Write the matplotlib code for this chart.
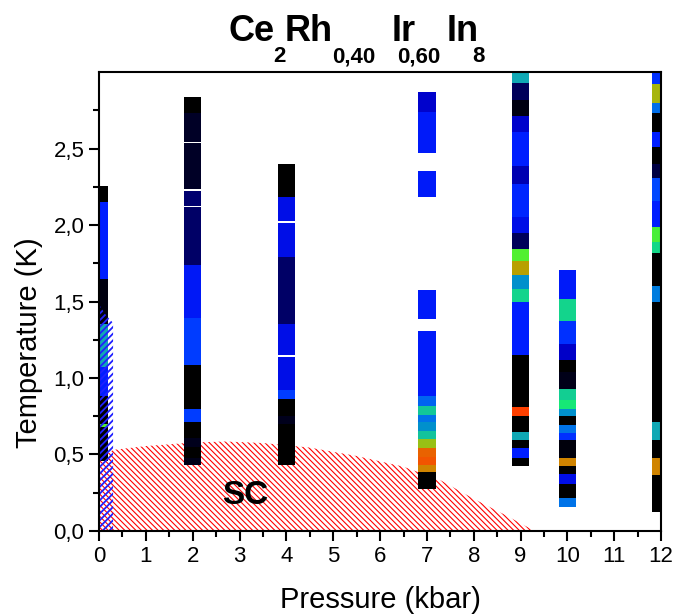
import matplotlib
matplotlib.use("Agg")
import matplotlib.pyplot as plt
from matplotlib.colors import LinearSegmentedColormap
from matplotlib.ticker import FuncFormatter, MultipleLocator, FixedLocator

plt.rcParams['font.family'] = ['Liberation Sans', 'DejaVu Sans']
plt.rcParams['hatch.linewidth'] = 0.8

# ---- data: each column = boundaries (top -> bottom) and colour value per segment (None = gap)
pressures = [0, 2, 4, 7, 9, 10, 12]
b0 = [2.255, 2.15, 1.65, 1.35, 1.07, 0.88, 0.70, 0.68, 0.46]
v0 = [0.0, 0.33, 0.03, 0.60, 0.33, 0.0, 0.78, 0.0]
b2 = [2.84, 2.73, 2.545, 2.535, 2.235, 2.225, 2.125, 2.115, 1.74, 1.39, 1.085, 0.80, 0.71, 0.61, 0.55, 0.48, 0.43]
v2 = [0.0, 0.06, None, 0.06, None, 0.14, None, 0.13, 0.31, 0.38, 0.0, 0.38, 0.0, 0.05, 0.0, 0.04]
b4 = [2.40, 2.18, 2.025, 2.01, 1.79, 1.35, 1.15, 1.14, 0.92, 0.86, 0.75, 0.70, 0.43]
v4 = [0.0, 0.28, None, 0.28, 0.13, 0.28, None, 0.28, 0.38, 0.0, 0.05, 0.0]
b7 = [2.87, 2.74, 2.47, 2.35, 2.18, 1.575, 1.385, 1.31, 0.88, 0.82, 0.76, 0.71, 0.655, 0.60, 0.54, 0.485, 0.43, 0.385, 0.275]
v7 = [0.23, 0.32, None, 0.32, None, 0.32, None, 0.32, 0.45, 0.66, 0.48, 0.55, 0.65, 0.83, 0.95, 0.97, 0.91, 0.0]
b9 = [3.0, 2.93, 2.82, 2.71, 2.61, 2.385, 2.27, 2.05, 1.95, 1.84, 1.765, 1.67, 1.58, 1.50, 1.15, 0.81, 0.75, 0.65, 0.595, 0.54, 0.475, 0.425]
v9 = [0.60, 0.12, 0.03, 0.23, 0.33, 0.20, 0.34, 0.28, 0.12, 0.78, 0.87, 0.55, 0.68, 0.33, 0.0, 1.0, 0.0, 0.60, 0.0, 0.33, 0.0]
b10 = [1.705, 1.515, 1.37, 1.22, 1.12, 1.04, 0.93, 0.855, 0.80, 0.75, 0.69, 0.64, 0.595, 0.48, 0.425, 0.37, 0.31, 0.215, 0.16]
v10 = [0.32, 0.68, 0.36, 0.22, 0.0, 0.04, 0.67, 0.72, 0.55, 0.0, 0.48, 0.36, 0.02, 0.91, 0.0, 0.28, 0.0, 0.48]
b12 = [3.0, 2.92, 2.80, 2.73, 2.61, 2.51, 2.40, 2.31, 2.16, 1.99, 1.89, 1.82, 1.60, 1.50, 0.71, 0.595, 0.48, 0.365, 0.125]
v12 = [0.36, 0.84, 0.47, 0.0, 0.33, 0.0, 0.09, 0.40, 0.33, 0.77, 0.69, 0.0, 0.50, 0.0, 0.60, 0.0, 0.91, 0.0]
bounds = [b0, b2, b4, b7, b9, b10, b12]
vals = [v0, v2, v4, v7, v9, v10, v12]

# superconducting dome
sc_p = [0, 0.3, 1, 2, 2.7, 3.5, 4.5, 5.5, 6.5, 7.3, 8, 8.7, 9.3, 10]
sc_t = [0.47, 0.53, 0.555, 0.578, 0.585, 0.575, 0.545, 0.49, 0.42, 0.33, 0.21, 0.10, 0.0, 0.0]
# low-pressure hatched region
lp_p = [0, 0.15, 0.3]
lp_t = [1.48, 1.41, 1.36]

cmap = LinearSegmentedColormap.from_list("origin", [
    (0.00, '#000000'), (0.05, '#00001e'), (0.12, '#00005c'), (0.22, '#0000c8'),
    (0.28, '#000ee8'), (0.33, '#001eff'), (0.40, '#0048ff'), (0.48, '#0074e8'),
    (0.55, '#0090cc'), (0.60, '#10a8b4'), (0.66, '#12c898'), (0.72, '#14e878'),
    (0.78, '#50f030'), (0.84, '#a4b810'), (0.87, '#b8a000'), (0.91, '#d08400'),
    (0.95, '#e86400'), (1.00, '#ff4000')])

fig = plt.figure(figsize=(6.76, 6.14), dpi=100)
ax = fig.add_axes([0.1465, 0.1352, 0.8315, 0.7475])

# SC dome (red hatch)
ax.fill_between(sc_p, 0, sc_t, facecolor='none', edgecolor='red', hatch='\\' * 6, lw=0, zorder=1)

# columns
for p, b, v in zip(pressures, bounds, vals):
    for i, c in enumerate(v):
        if c is None:
            continue
        ax.bar(p, b[i] - b[i + 1], bottom=b[i + 1], width=0.37, color=cmap(c),
               linewidth=0, zorder=2)

# low-pressure region (blue hatch)
plt.rcParams['hatch.linewidth'] = 1.3
ax.fill_between(lp_p, 0, lp_t, facecolor='none', edgecolor='#2020ff', hatch='/' * 5, lw=0, zorder=3)

ax.text(3.12, 0.23, "SC", fontsize=24, fontweight='bold', ha='center', va='center', zorder=4)

ax.set_xlim(0, 12)
ax.set_ylim(0, 3.0)
ax.xaxis.set_major_locator(MultipleLocator(1))
ax.xaxis.set_minor_locator(MultipleLocator(0.5))
ax.yaxis.set_major_locator(FixedLocator([0, 0.5, 1.0, 1.5, 2.0, 2.5]))
ax.yaxis.set_minor_locator(FixedLocator([0.25, 0.75, 1.25, 1.75, 2.25, 2.75]))
ax.yaxis.set_major_formatter(FuncFormatter(lambda y, _: f"{y:.1f}".replace('.', ',')))
ax.tick_params(which='major', direction='out', length=7, width=1.5, labelsize=16)
ax.tick_params(which='minor', direction='out', length=4, width=1.5)
for s in ax.spines.values():
    s.set_linewidth(1.5)
    s.set_zorder(5)

ax.set_xlabel("Pressure (kbar)", fontsize=21, labelpad=14)
ax.set_ylabel("Temperature (K)", fontsize=21)
ax.yaxis.set_label_coords(-0.1, 0.41)

# title with chemical subscripts
W, H = 676.0, 614.0
pieces = [("Ce", 229, 41, 26), ("2", 273, 62, 16), ("Rh", 285, 41, 26), ("0,40", 332, 62, 16),
          ("Ir", 392, 41, 26), ("0,60", 397, 62, 16), ("In", 447, 41, 26), ("8", 472, 62, 16)]
for t, x, y, s in pieces:
    fig.text(x / W, 1 - y / H, t, fontsize=s, fontweight='bold', ha='left', va='baseline')

fig.savefig("out.png", dpi=100)
